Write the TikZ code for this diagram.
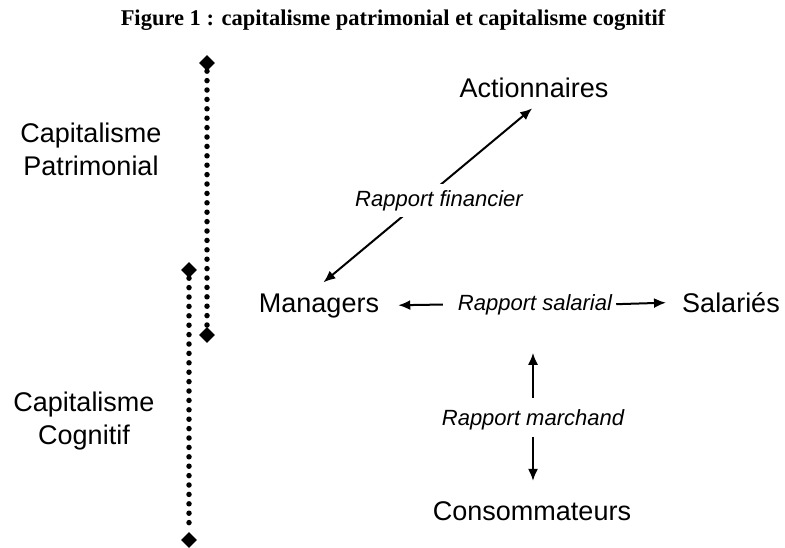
\documentclass[tikz,border=0pt]{standalone}
\usepackage{fontspec}
\setmainfont{Liberation Sans}
\newfontfamily\titlefont{Liberation Serif}
\usetikzlibrary{arrows.meta,shapes.geometric}

\tikzset{
  actor/.style={inner sep=0pt,font=\fontsize{27}{33}\selectfont},
  rapport/.style={inner sep=0pt,font=\fontsize{22}{26}\selectfont\itshape},
  link/.style={line width=2pt},
  tip/.style={diamond,fill=black,inner sep=0pt,minimum size=16pt},
  dots/.style={line width=5.5pt,line cap=round,dash pattern=on 0pt off 9.4pt}
}

\begin{document}
\begin{tikzpicture}[x=1pt,y=-1pt,>={Latex[length=12pt,width=10pt]}]

  \useasboundingbox (0,0) rectangle (785,547);

  % title
  \node[anchor=base] (title) at (393,25) {\titlefont\bfseries\fontsize{22.5}{26}\selectfont Figure 1 : capitalisme patrimonial et capitalisme cognitif};

  % periods
  \node[actor,anchor=base,align=center] (pat) at (91,175) {Capitalisme\\Patrimonial};
  \node[actor,anchor=base,align=center] (cog) at (84,444) {Capitalisme\\Cognitif};

  \node[tip] (pattop) at (207,63) {};
  \node[tip] (patbot) at (207,335) {};
  \node[tip] (cogtop) at (189,270) {};
  \node[tip] (cogbot) at (189,540) {};
  \draw[dots] (pattop) -- (patbot);
  \draw[dots] (cogtop) -- (cogbot);

  % actors
  \node[actor,anchor=base] (act) at (534,97) {Actionnaires};
  \node[actor,anchor=base] (man) at (319,312) {Managers};
  \node[actor,anchor=base] (sal) at (731,312) {Salariés};
  \node[actor,anchor=base] (cons) at (532,520) {Consommateurs};

  % relations
  \node[rapport,anchor=base] (rsal) at (535,310) {Rapport salarial};
  \node[rapport,anchor=base] (rmar) at (533,425) {Rapport marchand};

  \draw[link,<->,shorten <=17pt,shorten >=17pt] (man.125) -- (act.318);
  \node[rapport,anchor=base,fill=white,inner xsep=2pt,inner ysep=6pt] (rfin) at (439,206) {Rapport financier};

  \draw[link,->,shorten <=15pt,shorten >=19pt] (rsal.west) -- (man.east);
  \draw[link,->,shorten <=4pt,shorten >=16pt] (rsal.east) -- (sal.west);
  \draw[link,->,shorten <=11pt,shorten >=38pt] (rmar.north) -- (rmar.north |- rsal.south);
  \draw[link,->,shorten <=7pt,shorten >=20pt] (rmar.south) -- (rmar.south |- cons.north);

\end{tikzpicture}
\end{document}
